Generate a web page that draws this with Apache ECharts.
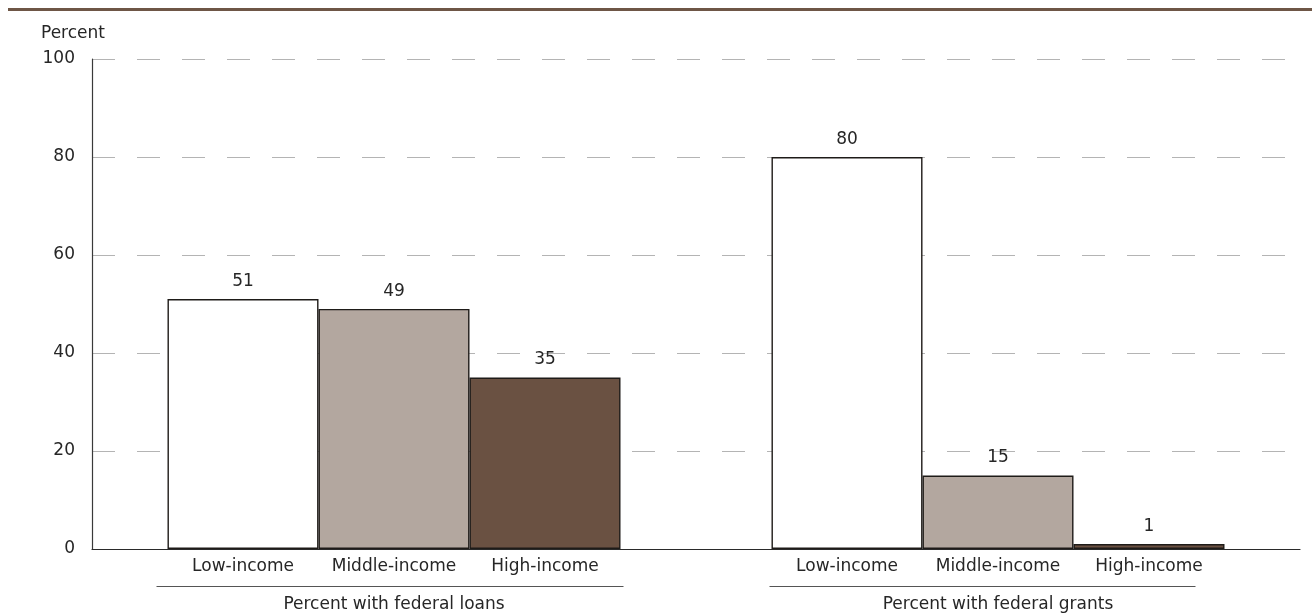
<!DOCTYPE html>
<html>
<head>
<meta charset="utf-8">
<style>
  html, body { margin: 0; padding: 0; background: #fff; }
  #chart { width: 1312px; height: 616px; }
</style>
<script src="https://cdn.jsdelivr.net/npm/echarts@6/dist/echarts.min.js"></script>
</head>
<body>
<div id="chart"></div>
<script>
// Income groups shown within each aid type
const incomeGroups = ['Low-income', 'Middle-income', 'High-income'];
// Aid types (group captions under the axis)
const aidTypes = ['Percent with federal loans', 'Percent with federal grants'];
// Percent of students receiving each aid type, by income group
const loansValues = [51, 49, 35];
const grantsValues = [80, 15, 1];
// Y axis ticks
const yTicks = [0, 20, 40, 60, 80, 100];

const FONT = '"DejaVu Sans", sans-serif';
const FS = 17;
const TEXT = '#262626';
const barColors = ['#ffffff', '#b3a79f', '#6a5142'];

// Category slots: padding, three bars, gap, three bars, padding
const slots = [''].concat(incomeGroups, [''], incomeGroups, ['']);
const loansIdx = [1, 2, 3];
const grantsIdx = [5, 6, 7];

const series = incomeGroups.map(function (g, i) {
  const data = slots.map(function () { return null; });
  data[loansIdx[i]] = loansValues[i];
  data[grantsIdx[i]] = grantsValues[i];
  return {
    name: g,
    type: 'bar',
    stack: 'all',
    barWidth: '100%',
    data: data,
    itemStyle: { color: barColors[i], borderColor: '#1e1b18', borderWidth: 1.4 },
    label: {
      show: true,
      position: 'top',
      distance: 9,
      color: TEXT,
      fontSize: FS,
      fontFamily: FONT
    }
  };
});

const chart = echarts.init(document.getElementById('chart'));
chart.setOption({
  animation: false,
  title: {
    text: 'Percent',
    left: 41,
    top: 25,
    padding: 0,
    textStyle: { fontSize: FS, fontWeight: 'normal', color: TEXT, fontFamily: FONT }
  },
  grid: { left: 92, right: 12, top: 59, bottom: 67 },
  xAxis: {
    type: 'category',
    data: slots,
    boundaryGap: false,
    axisLine: { lineStyle: { color: '#2a2a2a', width: 1.2 } },
    axisTick: { show: false },
    splitLine: { show: false },
    axisLabel: {
      interval: 0,
      margin: 9,
      color: TEXT,
      fontSize: FS,
      fontFamily: FONT
    }
  },
  yAxis: {
    type: 'value',
    min: yTicks[0],
    max: yTicks[yTicks.length - 1],
    interval: yTicks[1] - yTicks[0],
    axisLine: { show: true, lineStyle: { color: '#3a3a3a', width: 1.2 } },
    axisTick: { show: false },
    axisLabel: { margin: 17, color: TEXT, fontSize: FS, fontFamily: FONT },
    splitLine: {
      show: true,
      lineStyle: { color: '#b4b4b4', width: 1, type: [23, 22] }
    }
  },
  series: series
});

// Top rule and group captions under the category labels
function drawDecor() {
  const p = function (i) { return chart.convertToPixel({ xAxisIndex: 0 }, i); };
  const half = (p(2) - p(1)) / 2;
  const lineY = 586.5;
  const groups = [
    { first: loansIdx[0], last: loansIdx[2], x1: p(loansIdx[0]) - half - 11, x2: p(loansIdx[2]) + half + 3, text: aidTypes[0] },
    { first: grantsIdx[0], last: grantsIdx[2], x1: p(grantsIdx[0]) - half - 2, x2: p(grantsIdx[2]) + half - 29, text: aidTypes[1] }
  ];
  const elements = [{
    type: 'rect',
    shape: { x: 8, y: 8, width: 1304, height: 3 },
    style: { fill: '#6e5646' },
    silent: true
  }];
  groups.forEach(function (g) {
    elements.push({
      type: 'line',
      shape: { x1: g.x1, y1: lineY, x2: g.x2, y2: lineY },
      style: { stroke: '#555', lineWidth: 1 },
      silent: true
    });
    elements.push({
      type: 'text',
      x: (p(g.first) + p(g.last)) / 2,
      y: 605,
      style: {
        text: g.text,
        fill: TEXT,
        fontSize: FS,
        fontFamily: FONT,
        align: 'center',
        verticalAlign: 'middle'
      },
      silent: true
    });
  });
  chart.setOption({ graphic: elements });
}
drawDecor();
</script>
</body>
</html>
